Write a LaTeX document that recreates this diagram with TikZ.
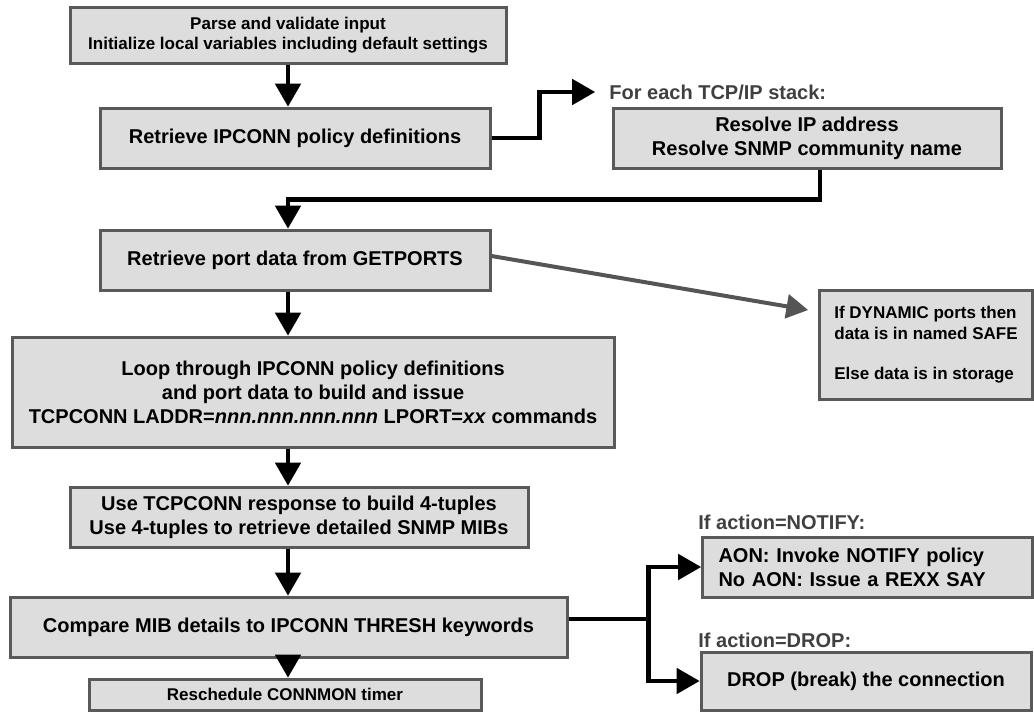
\documentclass[tikz,border=0pt]{standalone}
\usepackage{fontspec}
\setmainfont{Liberation Sans}
\usetikzlibrary{arrows}

\definecolor{boxfill}{HTML}{DDDDDD}
\definecolor{boxline}{HTML}{595959}
\definecolor{labelgray}{HTML}{404040}
\definecolor{sidearrow}{HTML}{555555}

\tikzset{
	stepbox/.style={draw=boxline,fill=boxfill,line width=1.5pt,align=center,inner sep=0pt,
		font=\bfseries\fontsize{10}{12}\selectfont},
	smallbox/.style={stepbox,font=\bfseries\fontsize{8.5}{10.2}\selectfont},
	note/.style={text=labelgray,anchor=west,inner sep=0pt,font=\bfseries\fontsize{10}{12}\selectfont},
	flow/.style={->,line width=2.2pt}
}

\begin{document}
\begin{tikzpicture}[x=0.5pt,y=-0.5pt,>=triangle 60]
		\useasboundingbox (0,0) rectangle (1034,712);
		\coordinate (spine) at (288,0);

		% main column
		\node[smallbox,minimum width=218pt,minimum height=28pt] (parse) at (288,35)
			{Parse and validate input\\Initialize local variables including default settings};
		\node[stepbox,minimum width=195pt,minimum height=30pt] (ipconn) at (295,138)
			{Retrieve IPCONN policy definitions};
		\node[stepbox,minimum width=195pt,minimum height=30pt] (getports) at (295,260)
			{Retrieve port data from GETPORTS};
		\node[stepbox,minimum width=301pt,minimum height=55pt] (loop) at (313,392)
			{Loop through IPCONN policy definitions\\and port data to build and issue\\
			 TCPCONN LADDR=\textit{nnn.nnn.nnn.nnn} LPORT=\textit{xx} commands};
		\node[stepbox,minimum width=229pt,minimum height=30pt] (tuples) at (299,517)
			{Use TCPCONN response to build 4-tuples\\Use 4-tuples to retrieve detailed SNMP MIBs};
		\node[stepbox,minimum width=278.5pt,minimum height=30pt] (compare) at (288.5,627)
			{Compare MIB details to IPCONN THRESH keywords};
		\node[smallbox,minimum width=196pt,minimum height=15.5pt] (resched) at (285,694.5)
			{Reschedule CONNMON timer};

		% side boxes
		\node[note] (stack) at (609,92) {For each TCP/IP stack:};
		\node[stepbox,minimum width=194pt,minimum height=30pt] (resolve) at (807,138)
			{Resolve IP address\\Resolve SNMP community name};
		\node[smallbox,anchor=north west,align=left,minimum width=106.5pt,
			minimum height=54.5pt] (dyn) at (818,289)
			{If DYNAMIC ports then\\data is in named SAFE\\[10pt]Else data is in storage};
		\node[note] (notifylbl) at (698,522) {If action=NOTIFY:};
		\node[stepbox,anchor=west,align=left,text width=149pt,inner xsep=8pt,
			minimum height=30pt] (notify) at (701,567)
			{AON: Invoke NOTIFY policy\\No AON: Issue a REXX SAY};
		\node[note] (droplbl) at (698,640) {If action=DROP:};
		\node[stepbox,minimum width=165pt,minimum height=29pt] (drop) at (866,681)
			{DROP (break) the connection};

		\foreach \a/\b in {parse/ipconn,getports/loop,loop/tuples,tuples/compare,compare/resched}
			\draw[flow] (\a.south -| spine) -- (\b.north -| spine);

		\draw[flow] (ipconn.east) -- ++(48,0) |- ([xshift=-7pt]stack.west);
		\draw[flow] ([xshift=6.5pt]resolve.south) -- ++(0,30) -| (getports.north -| spine);
		\draw[flow,sidearrow,line width=2pt] ([yshift=2pt]getports.east) -- ([xshift=-5pt,yshift=17.5pt]dyn.west);
		\draw[flow] ([yshift=4pt]compare.east) -- ++(80,0) coordinate (fork) |- (notify.west);
		\draw[flow] (fork) |- (drop.west);
	\end{tikzpicture}
\end{document}
